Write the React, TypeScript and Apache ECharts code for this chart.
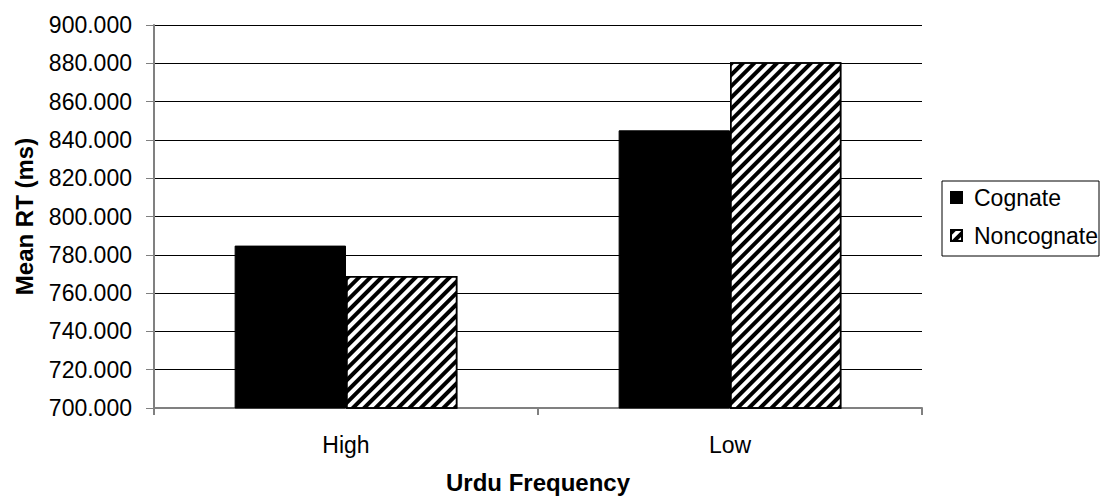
import React, { useEffect, useRef } from "react";
import * as echarts from "echarts";

const categories = ["High", "Low"];
const cognate = [784.8, 845.0];
const noncognate = [768.9, 880.6];
const seriesNames = ["Cognate", "Noncognate"];
const yMin = 700;
const yMax = 900;
const yStep = 20;

const FONT = "'Liberation Sans', Arial, sans-serif";

export default function App() {
  const ref = useRef<HTMLDivElement>(null);
  useEffect(() => {
    if (!ref.current) return;
    const chart = echarts.init(ref.current, null, { renderer: "svg" });
    chart.setOption({
      animation: false,
      backgroundColor: "#fff",
      textStyle: { fontFamily: FONT, color: "#000" },
      grid: {
        left: 154,
        right: 179,
        top: 25,
        bottom: 90,
        containLabel: false,
        outerBoundsMode: "none",
      },
      graphic: [
        {
          type: "rect",
          shape: { x: 942, y: 181, width: 157, height: 75 },
          style: { fill: "#fff", stroke: "#000", lineWidth: 1 },
          z: 0,
        },
      ],
      legend: {
        orient: "vertical",
        left: 950,
        top: 186,
        padding: 0,
        itemWidth: 11,
        itemHeight: 11,
        itemGap: 15,
        icon: "rect",
        data: seriesNames,
        z: 10,
        textStyle: {
          fontFamily: FONT,
          fontSize: 23,
          lineHeight: 23,
          color: "#000",
          padding: [0, 0, 0, 7],
        },
      },
      xAxis: {
        type: "category",
        data: categories,
        name: "Urdu Frequency",
        nameLocation: "middle",
        nameGap: 62,
        nameTextStyle: { fontFamily: FONT, fontSize: 24, fontWeight: "bold", color: "#000" },
        axisLine: { lineStyle: { color: "#808080", width: 2 } },
        axisTick: { show: true, length: 7, alignWithLabel: false, lineStyle: { color: "#808080", width: 2 } },
        axisLabel: { fontFamily: FONT, fontSize: 23, color: "#000", margin: 25 },
        splitLine: { show: false },
      },
      yAxis: {
        type: "value",
        min: yMin,
        max: yMax,
        interval: yStep,
        name: "Mean RT (ms)",
        nameLocation: "middle",
        nameGap: 118,
        nameTextStyle: { fontFamily: FONT, fontSize: 24, fontWeight: "bold", color: "#000" },
        axisLine: { show: true, lineStyle: { color: "#808080", width: 2 } },
        axisTick: { show: true, length: 8, lineStyle: { color: "#808080", width: 1 } },
        axisLabel: {
          fontFamily: FONT,
          fontSize: 23,
          color: "#000",
          margin: 22,
          formatter: (v: number) => v.toFixed(3),
        },
        splitLine: { show: true, lineStyle: { color: "#000", width: 1 } },
      },
      series: [
        {
          name: seriesNames[0],
          type: "bar",
          data: cognate,
          barGap: "0%",
          barCategoryGap: "42%",
          itemStyle: { color: "#000", borderColor: "#000", borderWidth: 1 },
        },
        {
          name: seriesNames[1],
          type: "bar",
          data: noncognate,
          barGap: "0%",
          barCategoryGap: "42%",
          itemStyle: {
            color: "#fff",
            borderColor: "#000",
            borderWidth: 1.5,
            decal: {
              symbol: "rect",
              symbolSize: 1,
              dashArrayX: [1, 0],
              dashArrayY: [4, 4],
              rotation: -Math.PI / 4,
              color: "#000",
              backgroundColor: "#fff",
            },
          },
        },
      ],
    });
    return () => chart.dispose();
  }, []);
  return (
    <div
      ref={ref}
      style={{ position: "fixed", left: 0, top: 0, width: 1101, height: 498 }}
    />
  );
}
